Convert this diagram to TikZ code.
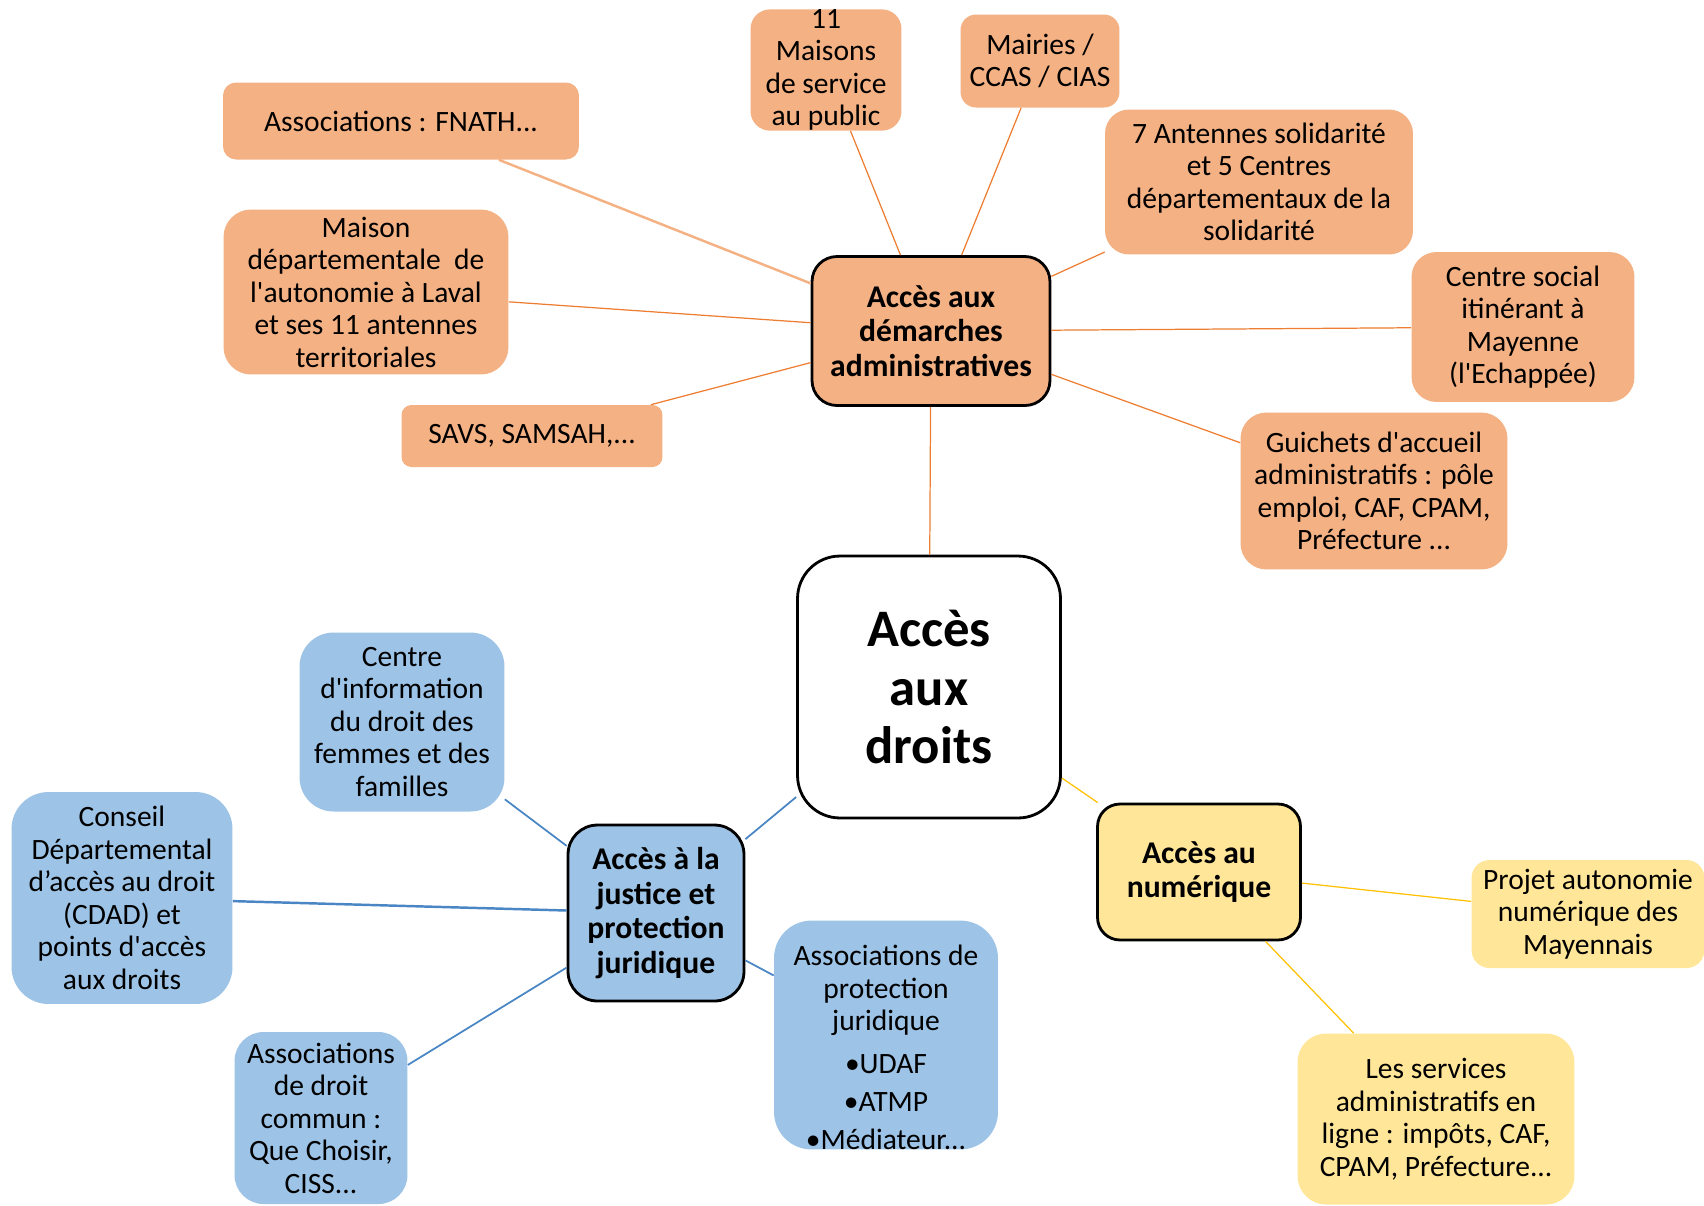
\documentclass[tikz,border=0pt]{standalone}
\usepackage{fontspec}
\setmainfont{Carlito}
\newcommand{\ap}{\textquotesingle}
\definecolor{orfill}{HTML}{F4B183}
\definecolor{orline}{HTML}{ED7D31}
\definecolor{blfill}{HTML}{9DC3E6}
\definecolor{blline}{HTML}{4A86C4}
\definecolor{yefill}{HTML}{FFE699}
\definecolor{yeline}{HTML}{FFC000}
\begin{document}
\begin{tikzpicture}[x=0.02cm, y=-0.02cm,
		leaf/.style={inner sep=0pt, align=center, text=black,
					 font=\fontsize{16.8}{18.5}\selectfont},
		orleaf/.style={leaf, fill=orfill},
		blleaf/.style={leaf, fill=blfill},
		yeleaf/.style={leaf, fill=yefill},
		hub/.style={leaf, draw=black, line width=1.6pt,
					font=\bfseries\fontsize{18}{19.7}\selectfont},
		orlink/.style={draw=orline, line width=0.7pt},
		bllink/.style={draw=blline, line width=1pt},
		yelink/.style={draw=yeline, line width=0.7pt}]
	\useasboundingbox (0,0) rectangle (1704,1205);

	% centre
	\node[leaf, draw=black, line width=1.6pt, fill=white, rounded corners=0.85cm,
		  minimum width=5.26cm, minimum height=5.24cm,
		  font=\bfseries\fontsize{30}{33.5}\selectfont] (droits) at (929,687) {Accès\\aux\\droits};

	% acces aux demarches administratives
	\node[hub, fill=orfill, rounded corners=0.5cm, minimum width=4.76cm, minimum height=2.98cm] (demarches) at (931,331) {Accès aux\\démarches\\administratives};
	\node[orleaf, rounded corners=0.26cm, minimum width=7.12cm, minimum height=1.54cm] (fnath) at (401,121) {Associations : FNATH...};
	\node[orleaf, rounded corners=0.39cm, minimum width=3.02cm, minimum height=2.34cm] (msap) at (826,70) {11\\Maisons\\de service\\au public};
	\node[orleaf, rounded corners=0.31cm, minimum width=3.18cm, minimum height=1.86cm] (mairies) at (1040,61) {Mairies /\\CCAS / CIAS};
	\node[orleaf, rounded corners=0.48cm, minimum width=6.16cm, minimum height=2.9cm] (antennes) at (1259,182) {7 Antennes solidarité\\et 5 Centres\\départementaux de la\\solidarité};
	\node[orleaf, rounded corners=0.5cm, minimum width=4.46cm, minimum height=3cm] (csocial) at (1523,327) {Centre social\\itinérant à\\Mayenne\\(l\ap Echappée)};
	\node[orleaf, rounded corners=0.52cm, minimum width=5.34cm, minimum height=3.14cm] (guichets) at (1374,491) {Guichets d\ap accueil\\administratifs : pôle\\emploi, CAF, CPAM,\\Préfecture ...};
	\node[orleaf, rounded corners=0.55cm, minimum width=5.7cm, minimum height=3.3cm] (mda) at (366,292) {Maison\\départementale~~de\\l\ap autonomie à Laval\\et ses 11 antennes\\territoriales};
	\node[orleaf, rounded corners=0.2cm, minimum width=5.22cm, minimum height=1.24cm] (savs) at (532,436) {SAVS, SAMSAH,...};

	% acces a la justice
	\node[hub, fill=blfill, rounded corners=0.59cm, minimum width=3.52cm, minimum height=3.52cm] (justice) at (656,913) {Accès à la\\justice et\\protection\\juridique};
	\node[blleaf, rounded corners=0.68cm, minimum width=4.1cm, minimum height=3.58cm] (cidff) at (402,722) {Centre\\d\ap information\\du droit des\\femmes et des\\familles};
	\node[blleaf, rounded corners=0.74cm, minimum width=4.42cm, minimum height=4.24cm] (cdad) at (122,898) {Conseil\\Départemental\\d’accès au droit\\(CDAD) et\\points d\ap accès\\aux droits};
	\node[blleaf, rounded corners=0.58cm, minimum width=3.46cm, minimum height=3.44cm] (adc) at (321,1118) {Associations\\de droit\\commun :\\Que Choisir,\\CISS...};
	\node[blleaf, rounded corners=0.75cm, minimum width=4.48cm, minimum height=4.46cm] (apj) at (886,1035) {\rule{0pt}{0.9cm}Associations de\\protection\\juridique\\[6pt]•UDAF\\[3pt]•ATMP\\[3pt]•Médiateur...};

	% acces au numerique
	\node[hub, fill=yefill, rounded corners=0.45cm, minimum width=4.06cm, minimum height=2.72cm] (numerique) at (1199,872) {Accès au\\numérique};
	\node[yeleaf, rounded corners=0.36cm, minimum width=4.66cm, minimum height=2.16cm] (projet) at (1588,914) {Projet autonomie\\numérique des\\Mayennais};
	\node[yeleaf, rounded corners=0.57cm, minimum width=5.54cm, minimum height=3.42cm] (services) at (1436,1119) {Les services\\administratifs en\\ligne : impôts, CAF,\\CPAM, Préfecture...};

	\path[orlink]	(droits)  --  (demarches);
	\path[orlink, draw=orfill, line width=1.4pt]	(fnath)  --  (demarches);
	\path[orlink]	(msap)  --  (demarches);
	\path[orlink]	(mairies)  --  (demarches);
	\path[orlink]	(antennes)  --  (demarches);
	\path[orlink]	(csocial)  --  (demarches);
	\path[orlink]	(guichets)  --  (demarches);
	\path[orlink]	(mda)  --  (demarches);
	\path[orlink]	(savs)  --  (demarches);

	\path[bllink]	(droits)  --  (justice);
	\path[bllink]	(cidff)  --  (justice);
	\path[bllink, line width=1.4pt]	(cdad)  --  (justice);
	\path[bllink]	(adc)  --  (justice);
	\path[bllink]	(apj)  --  (justice);

	\path[yelink]	(droits)  --  (numerique);
	\path[yelink]	(projet)  --  (numerique);
	\path[yelink]	(services)  --  (numerique);

\end{tikzpicture}
\end{document}
